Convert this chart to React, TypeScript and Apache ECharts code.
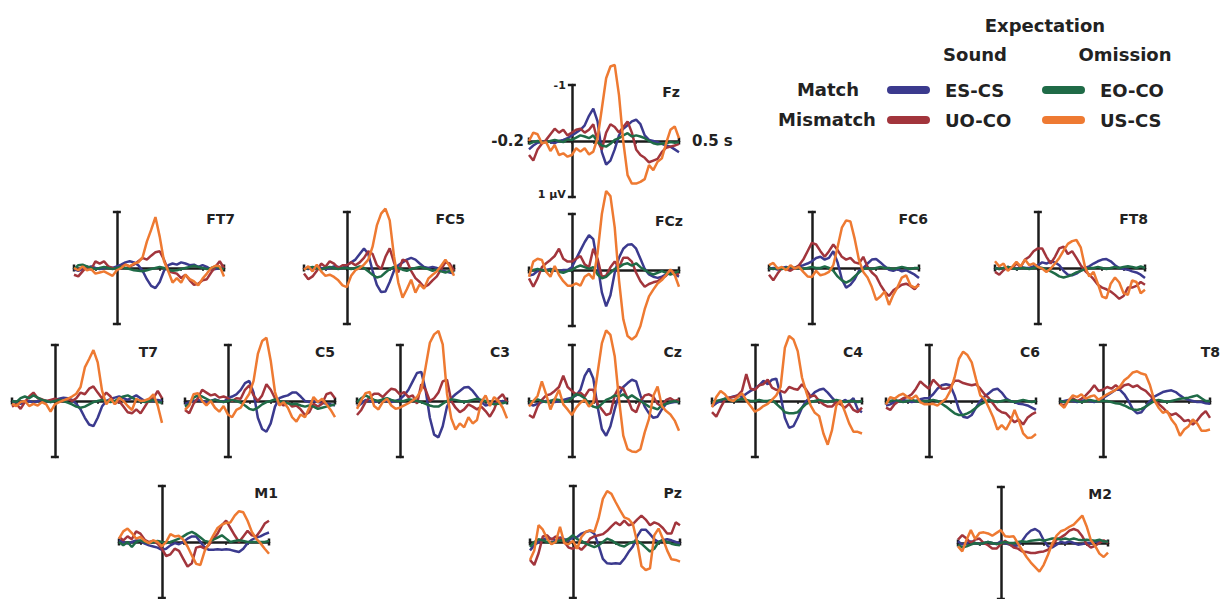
import React, { useEffect, useRef } from "react";
import * as echarts from "echarts";

// ---------- data ----------
const TIME_S = [-0.2, -0.18, -0.16, -0.14, -0.12, -0.1, -0.08, -0.06, -0.04, -0.02, 0, 0.02, 0.04, 0.06, 0.08, 0.1, 0.12, 0.14, 0.16, 0.18, 0.2, 0.22, 0.24, 0.26, 0.28, 0.3, 0.32, 0.34, 0.36, 0.38, 0.4, 0.42, 0.44, 0.46, 0.48, 0.5];

const CONDITIONS = ["ES-CS", "UO-CO", "EO-CO", "US-CS"];
const CONDITION_COLORS = ["#3b3a8e", "#a2353c", "#1f6b47", "#ee7a32"];

// Fz scale labels
const FZ_Y_TICK_LABELS = ["-1", "1 µV"];
const FZ_X_START_LABEL = "-0.2";
const FZ_X_END_LABEL = "0.5 s";

const FZ = {
  "ES-CS": [0.15, 0.08, 0.03, 0.02, 0.0, 0.02, 0.04, 0.0, -0.02, -0.05, -0.1, -0.15, -0.2, -0.28, -0.45, -0.58, -0.35, 0.2, 0.42, 0.35, 0.15, -0.1, -0.22, -0.28, -0.35, -0.38, -0.3, -0.1, -0.02, 0.0, 0.02, 0.05, 0.08, 0.1, 0.15, 0.2],
  "UO-CO": [0.25, 0.35, 0.15, 0.05, -0.02, -0.12, -0.22, -0.15, -0.2, -0.1, -0.15, -0.2, -0.22, -0.15, -0.2, -0.3, 0.0, 0.15, -0.15, -0.3, -0.25, -0.15, -0.25, -0.35, -0.15, 0.15, 0.25, 0.3, 0.38, 0.35, 0.32, 0.2, 0.12, 0.1, 0.08, 0.05],
  "EO-CO": [0.05, 0.02, 0.0, 0.03, 0.02, 0.0, -0.02, 0.0, 0.02, -0.03, -0.02, -0.06, -0.1, -0.08, -0.05, -0.1, 0.02, 0.08, 0.1, 0.05, -0.02, -0.05, -0.1, -0.14, -0.08, -0.1, -0.08, -0.05, 0.0, 0.04, 0.06, 0.05, 0.04, 0.02, 0.03, 0.02],
  "US-CS": [0, -0.15, -0.12, 0.04, 0.02, 0.18, 0.07, 0.25, 0.22, 0.28, 0.25, 0.13, 0.19, 0.13, 0.24, 0.19, -0.05, -0.58, -1.12, -1.33, -1.36, -0.82, 0.01, 0.61, 0.76, 0.76, 0.73, 0.68, 0.43, 0.52, 0.37, 0.31, 0.04, -0.2, -0.26, -0.05],
};
const FCZ = {
  "ES-CS": [0.1, 0.08, 0.02, 0.0, 0.0, -0.02, 0.0, 0.02, 0.0, 0.0, -0.05, -0.2, -0.35, -0.5, -0.62, -0.55, -0.1, 0.4, 0.65, 0.45, 0.05, -0.22, -0.38, -0.45, -0.46, -0.38, -0.2, -0.02, 0.08, 0.12, 0.14, 0.12, 0.08, 0.05, 0.08, 0.12],
  "UO-CO": [0.15, 0.3, 0.15, -0.05, -0.12, -0.18, -0.25, -0.38, -0.2, -0.15, -0.15, -0.2, -0.25, -0.1, -0.05, -0.38, -0.2, 0.12, 0.1, -0.05, -0.15, -0.05, -0.22, -0.22, -0.15, 0.05, 0.2, 0.3, 0.25, 0.22, 0.2, 0.15, 0.1, 0.0, 0.05, 0.08],
  "EO-CO": [0.02, 0.0, -0.02, 0.0, 0.02, 0.0, -0.02, 0.03, 0.05, 0.02, 0.0, -0.05, -0.08, -0.05, -0.02, -0.05, 0.08, 0.15, 0.12, 0.05, -0.02, -0.05, -0.1, -0.12, -0.08, -0.12, -0.05, 0.0, 0.05, 0.08, 0.05, 0.02, 0.05, 0.08, 0.05, 0.02],
  "US-CS": [0.12, -0.15, -0.2, -0.18, 0.03, 0.12, -0.07, 0.09, 0.2, 0.28, 0.28, 0.24, 0.28, 0.12, 0.07, 0.16, -0.3, -1.0, -1.41, -1.32, -0.76, 0.18, 0.88, 1.18, 1.24, 1.18, 1.0, 0.7, 0.47, 0.35, 0.24, 0.18, 0.09, -0.01, 0.09, 0.3],
};
const CZ = {
  "ES-CS": [0.05, 0.08, 0.05, 0.02, 0.0, 0.0, 0.02, 0.0, -0.02, -0.04, -0.06, -0.1, -0.2, -0.45, -0.58, -0.4, 0.1, 0.5, 0.62, 0.45, 0.15, -0.12, -0.25, -0.32, -0.38, -0.35, -0.1, 0.1, 0.22, 0.3, 0.28, 0.15, 0.05, 0.03, 0.02, 0.02],
  "UO-CO": [0.25, 0.3, 0.1, -0.02, -0.1, -0.12, -0.18, -0.25, -0.45, -0.25, -0.18, -0.12, -0.15, -0.08, -0.2, -0.2, 0.05, 0.15, 0.25, 0.22, -0.1, -0.25, -0.22, -0.05, 0.15, 0.2, 0.0, -0.1, -0.12, -0.08, 0.05, 0.1, -0.02, -0.05, 0.0, -0.03],
  "EO-CO": [0.02, 0.0, -0.03, 0.0, 0.02, 0.0, -0.03, -0.02, 0.02, 0.0, -0.05, -0.12, -0.1, -0.05, 0.05, 0.1, 0.12, 0.05, -0.02, -0.05, -0.1, -0.08, -0.12, -0.05, -0.1, -0.05, 0.0, 0.05, 0.1, 0.12, 0.15, 0.08, 0.05, 0.02, 0.0, 0.02],
  "US-CS": [0.1, 0.0, -0.09, -0.35, -0.12, 0.15, -0.03, -0.2, 0.06, 0.15, 0.25, 0.12, 0.03, -0.02, 0.1, 0.03, -0.5, -1.03, -1.26, -1.18, -0.8, -0.03, 0.62, 0.86, 0.9, 0.91, 0.86, 0.56, 0.32, -0.09, -0.26, 0.09, 0.18, 0.24, 0.35, 0.53],
};
const FT7 = {
  "ES-CS": [0.02, 0.05, 0.02, 0.0, -0.03, 0.0, 0.02, 0.0, -0.02, 0.0, -0.03, -0.06, -0.1, -0.12, -0.1, -0.05, 0.05, 0.2, 0.32, 0.36, 0.25, 0.05, -0.05, -0.08, -0.06, -0.1, -0.08, -0.05, -0.06, -0.02, -0.05, -0.02, 0.03, 0.02, 0.0, -0.02],
  "UO-CO": [0.12, 0.15, 0.06, -0.03, 0.03, -0.12, -0.08, -0.12, -0.03, 0.0, 0.03, -0.02, -0.06, -0.03, -0.06, -0.12, -0.18, -0.15, -0.22, -0.28, -0.3, -0.15, 0.05, 0.08, 0.1, 0.18, 0.12, 0.22, 0.3, 0.28, 0.22, 0.2, 0.08, -0.02, -0.12, 0.0],
  "EO-CO": [0.02, -0.05, -0.06, -0.03, 0.0, 0.02, 0.0, -0.02, 0.0, 0.02, 0.0, -0.02, 0.0, 0.02, 0.04, 0.05, 0.06, 0.04, 0.02, 0.0, -0.02, 0.0, 0.03, 0.05, 0.04, 0.02, 0.0, -0.02, -0.04, -0.02, 0.0, 0.02, 0.0, -0.03, 0.0, 0.02],
  "US-CS": [0.0, 0.04, -0.03, 0.04, 0.02, 0.1, 0.08, 0.06, 0.1, 0.14, 0.04, 0.0, -0.06, -0.03, -0.08, -0.1, -0.19, -0.47, -0.68, -0.91, -0.56, -0.12, 0.06, 0.26, 0.18, 0.26, 0.12, 0.2, 0.24, 0.31, 0.19, 0.1, 0.0, -0.04, -0.03, 0.15],
};
const FC5 = {
  "ES-CS": [0.0, 0.02, 0.0, -0.03, 0.0, 0.02, 0.0, -0.03, -0.02, 0.0, -0.05, -0.1, -0.15, -0.25, -0.35, -0.25, 0.05, 0.3, 0.43, 0.42, 0.25, 0.05, -0.05, -0.1, -0.15, -0.18, -0.15, -0.08, -0.02, 0.0, -0.02, 0.0, 0.05, 0.06, 0.08, 0.1],
  "UO-CO": [0.1, 0.2, 0.15, 0.05, -0.08, -0.02, -0.12, -0.08, 0.0, -0.05, -0.05, -0.1, -0.05, -0.1, -0.18, -0.3, -0.25, -0.05, 0.02, -0.2, -0.35, -0.1, 0.08, -0.15, -0.12, 0.05, 0.18, 0.25, 0.34, 0.3, 0.22, 0.15, 0.02, -0.1, -0.08, 0.05],
  "EO-CO": [0.02, 0.0, -0.02, 0.0, 0.03, 0.0, -0.02, 0.0, 0.02, 0.0, 0.0, 0.02, 0.0, -0.03, 0.0, 0.06, 0.12, 0.17, 0.15, 0.08, 0.02, -0.02, 0.0, 0.03, 0.05, 0.02, 0.0, -0.02, 0.0, 0.02, 0.05, 0.03, 0.06, 0.08, 0.05, 0.08],
  "US-CS": [0.03, -0.03, 0.06, -0.06, 0.06, 0.14, 0.12, 0.16, 0.22, 0.31, 0.34, 0.14, 0.04, 0.0, -0.06, -0.15, -0.38, -0.76, -0.97, -1.06, -0.85, -0.21, 0.26, 0.53, 0.38, 0.21, 0.44, 0.29, 0.37, 0.19, 0.12, 0.06, -0.04, -0.15, -0.03, 0.14],
};
const FC6 = {
  "ES-CS": [0.02, 0.0, 0.03, 0.0, -0.02, 0.02, 0.0, -0.03, -0.05, -0.08, -0.12, -0.18, -0.2, -0.15, -0.18, -0.3, -0.1, 0.2, 0.35, 0.3, 0.2, 0.05, 0.0, -0.08, -0.15, -0.16, -0.1, -0.03, 0.03, 0.05, 0.02, 0.06, 0.04, 0.08, 0.12, 0.18],
  "UO-CO": [0.12, 0.22, 0.1, 0.0, 0.02, 0.05, 0.0, -0.05, -0.15, -0.3, -0.45, -0.42, -0.3, -0.2, -0.3, -0.42, -0.32, -0.2, -0.15, -0.18, -0.1, -0.08, -0.2, -0.02, 0.08, 0.15, 0.3, 0.42, 0.5, 0.4, 0.35, 0.3, 0.28, 0.32, 0.38, 0.28],
  "EO-CO": [0.0, 0.02, 0.0, 0.02, 0.0, -0.02, 0.0, 0.0, 0.02, 0.0, -0.02, 0.0, 0.0, -0.03, 0.0, 0.05, 0.15, 0.22, 0.26, 0.22, 0.15, 0.08, 0.02, 0.0, 0.02, 0.0, -0.02, 0.0, 0.0, 0.02, 0.0, -0.02, 0.0, 0.02, 0.0, 0.0],
  "US-CS": [-0.05, -0.09, 0.01, -0.02, 0.04, -0.05, 0.01, -0.02, 0.07, 0.15, 0.16, 0.05, 0.13, 0.11, 0.07, -0.05, -0.37, -0.72, -0.85, -0.83, -0.52, -0.14, 0.07, 0.17, 0.34, 0.57, 0.51, 0.42, 0.66, 0.48, 0.34, 0.17, 0.13, 0.31, 0.35, 0.31],
};
const FT8 = {
  "ES-CS": [0.0, 0.02, 0.0, -0.02, 0.0, 0.02, -0.02, 0.0, 0.0, -0.03, -0.05, -0.1, -0.08, -0.12, -0.1, -0.05, 0.05, 0.12, 0.13, 0.1, 0.05, 0.0, -0.03, -0.08, -0.12, -0.15, -0.16, -0.12, -0.05, 0.0, 0.02, 0.03, 0.06, 0.08, 0.12, 0.18],
  "UO-CO": [0.07, 0.12, 0.04, -0.02, 0.01, -0.08, -0.02, -0.15, -0.2, -0.3, -0.35, -0.35, -0.2, -0.08, -0.2, -0.35, -0.38, -0.25, -0.3, -0.18, -0.05, 0.05, 0.12, 0.2, 0.3, 0.35, 0.38, 0.42, 0.48, 0.55, 0.5, 0.35, 0.35, 0.32, 0.25, 0.3],
  "EO-CO": [0.0, 0.02, 0.0, -0.02, 0.0, 0.02, 0.0, 0.0, 0.02, 0.0, -0.02, 0.0, 0.03, 0.06, 0.1, 0.15, 0.17, 0.15, 0.12, 0.08, 0.05, 0.02, 0.0, 0.0, -0.02, 0.0, 0.02, 0.0, -0.02, 0.0, -0.02, -0.03, -0.02, 0.0, -0.03, 0.0],
  "US-CS": [-0.12, -0.03, -0.08, 0.05, -0.02, -0.11, -0.03, -0.15, -0.05, -0.08, -0.02, 0.01, 0.07, 0.01, -0.08, -0.18, -0.31, -0.43, -0.48, -0.5, -0.37, -0.02, 0.15, 0.07, 0.28, 0.51, 0.54, 0.28, 0.17, 0.26, 0.45, 0.48, 0.22, 0.25, 0.45, 0.39],
};
const T7 = {
  "ES-CS": [0.0, 0.03, 0.05, 0.02, 0.0, 0.03, 0.0, -0.02, 0.0, 0.02, -0.02, -0.04, -0.06, -0.05, -0.02, 0.05, 0.15, 0.3, 0.42, 0.45, 0.3, 0.1, 0.0, -0.04, -0.06, -0.08, -0.05, -0.02, -0.06, -0.1, -0.05, 0.0, -0.02, 0.0, -0.02, 0.0],
  "UO-CO": [0.1, 0.05, 0.14, 0.02, -0.08, -0.15, -0.05, -0.03, 0.0, -0.02, -0.04, -0.02, 0.0, -0.04, 0.0, -0.05, -0.15, -0.12, -0.22, -0.26, -0.15, -0.05, -0.15, -0.08, 0.05, 0.0, 0.1, 0.2, 0.22, 0.15, 0.22, 0.1, -0.02, -0.05, -0.18, -0.05],
  "EO-CO": [0.0, 0.02, -0.05, -0.08, -0.05, -0.1, -0.06, -0.02, 0.0, 0.02, 0.0, -0.02, 0.0, 0.03, 0.06, 0.1, 0.12, 0.1, 0.06, 0.02, 0.0, -0.02, 0.0, 0.02, 0.0, -0.05, -0.08, -0.1, -0.06, -0.02, 0.0, 0.02, 0.0, -0.02, 0.02, 0.03],
  "US-CS": [0.05, 0.09, 0.02, 0.0, 0.09, 0.05, 0.08, 0.02, 0.06, 0.19, 0.06, 0.02, -0.01, -0.04, -0.08, -0.13, -0.25, -0.6, -0.75, -0.91, -0.69, -0.19, 0.06, -0.04, 0.06, -0.06, 0.0, 0.09, 0.16, -0.04, 0.0, -0.01, -0.04, -0.12, 0.08, 0.39],
};
const C5 = {
  "ES-CS": [0.05, 0.02, 0.0, -0.02, 0.0, 0.03, 0.0, -0.03, 0.0, 0.02, -0.05, -0.08, -0.12, -0.2, -0.32, -0.36, -0.15, 0.3, 0.5, 0.55, 0.4, 0.1, -0.05, -0.08, -0.1, -0.15, -0.15, -0.08, 0.0, 0.02, 0.0, 0.02, 0.03, 0.05, 0.06, 0.08],
  "UO-CO": [0.16, 0.22, 0.05, -0.05, -0.2, -0.15, -0.1, -0.12, -0.06, -0.08, -0.05, 0.0, -0.05, -0.04, -0.2, -0.28, -0.1, 0.0, -0.1, -0.3, -0.2, -0.05, 0.02, 0.08, 0.02, 0.1, 0.08, 0.15, 0.25, 0.2, 0.05, 0.1, 0.05, -0.12, -0.15, -0.05],
  "EO-CO": [0.1, 0.05, -0.06, -0.1, -0.08, -0.04, 0.0, -0.02, 0.0, 0.02, 0.0, -0.02, 0.0, 0.03, 0.08, 0.14, 0.16, 0.12, 0.06, 0.02, 0.0, -0.03, 0.0, 0.02, 0.04, 0.06, 0.05, 0.08, 0.1, 0.08, 0.1, 0.14, 0.12, 0.1, 0.08, 0.06],
  "US-CS": [0.16, 0.08, -0.12, -0.14, 0.0, 0.08, 0.0, 0.12, 0.19, 0.09, 0.24, 0.29, 0.16, 0.12, -0.01, -0.13, -0.36, -0.84, -1.07, -1.13, -0.72, -0.16, 0.08, 0.02, 0.12, 0.29, 0.37, 0.24, 0.29, 0.12, -0.07, 0.02, -0.04, 0.06, 0.16, 0.29],
};
const C3 = {
  "ES-CS": [0.1, 0.05, -0.02, 0.0, 0.02, 0.0, -0.02, 0.0, 0.02, 0.0, -0.03, -0.1, -0.2, -0.35, -0.5, -0.52, -0.2, 0.3, 0.6, 0.65, 0.45, 0.1, -0.05, -0.12, -0.18, -0.24, -0.25, -0.18, -0.08, 0.02, 0.08, 0.06, 0.04, 0.02, 0.0, 0.02],
  "UO-CO": [0.25, 0.16, 0.02, -0.07, -0.13, -0.13, -0.07, -0.15, -0.22, -0.2, -0.12, -0.16, -0.07, -0.1, 0.05, -0.3, -0.2, 0.0, -0.05, -0.15, -0.35, -0.38, 0.0, 0.12, 0.2, 0.15, 0.06, 0.1, 0.15, 0.1, 0.18, 0.28, 0.15, -0.05, -0.12, 0.02],
  "EO-CO": [0.02, -0.05, -0.1, -0.06, -0.02, 0.0, -0.03, -0.05, -0.02, 0.0, 0.0, 0.0, -0.03, -0.02, 0.0, 0.02, 0.05, 0.08, 0.1, 0.1, 0.05, 0.0, -0.03, -0.02, 0.0, 0.02, 0.0, -0.02, -0.04, -0.02, 0.0, 0.03, 0.06, 0.05, 0.04, 0.02],
  "US-CS": [0.14, -0.01, -0.14, -0.16, 0.09, 0.15, 0.02, -0.04, 0.08, 0.14, 0.12, 0.08, 0.04, -0.01, -0.07, -0.2, -0.6, -1.04, -1.19, -1.25, -1.01, -0.13, 0.31, 0.51, 0.4, 0.47, 0.29, 0.4, 0.34, 0.02, -0.1, 0.09, -0.07, 0.0, 0.12, 0.31],
};
const C4 = {
  "ES-CS": [0.1, 0.04, 0.0, -0.04, -0.06, -0.08, -0.1, -0.07, -0.13, -0.18, -0.22, -0.28, -0.36, -0.3, -0.38, -0.4, -0.1, 0.3, 0.48, 0.45, 0.3, 0.12, 0.0, -0.08, -0.16, -0.2, -0.22, -0.15, -0.06, 0.02, 0.04, -0.02, 0.02, -0.05, 0.15, 0.2],
  "UO-CO": [0.2, 0.28, 0.12, -0.02, -0.06, -0.07, -0.1, -0.18, -0.48, -0.22, -0.2, -0.28, -0.3, -0.38, -0.24, -0.2, -0.18, -0.15, -0.25, -0.22, -0.2, -0.3, -0.2, -0.08, -0.1, 0.0, 0.06, 0.1, 0.1, 0.02, 0.06, 0.12, 0.05, 0.16, 0.2, 0.12],
  "EO-CO": [0.02, 0.0, -0.02, -0.04, -0.02, 0.0, -0.02, -0.04, -0.02, 0.0, 0.0, -0.02, 0.0, 0.0, -0.02, 0.05, 0.12, 0.2, 0.22, 0.22, 0.2, 0.12, 0.05, 0.02, 0.0, -0.02, 0.0, 0.02, 0.0, -0.02, 0.0, 0.02, 0.0, 0.0, 0.02, 0.0],
  "US-CS": [0.11, -0.07, -0.18, -0.12, -0.02, 0.0, -0.07, -0.14, -0.01, 0.09, 0.19, 0.15, 0.09, 0.05, -0.02, -0.1, -0.25, -0.95, -1.16, -1.1, -0.89, -0.42, -0.16, 0.08, 0.21, 0.27, 0.58, 0.78, 0.52, 0.08, -0.01, 0.19, 0.4, 0.55, 0.55, 0.58],
};
const C6 = {
  "ES-CS": [0.08, 0.06, 0.02, 0.0, -0.02, 0.0, 0.02, 0.0, -0.03, -0.05, -0.05, -0.12, -0.22, -0.28, -0.3, -0.28, -0.1, 0.15, 0.28, 0.3, 0.25, 0.12, 0.0, -0.08, -0.14, -0.2, -0.22, -0.15, -0.05, 0.0, 0.02, 0.05, 0.06, 0.08, 0.12, 0.16],
  "UO-CO": [0.12, 0.16, 0.06, 0.0, -0.05, -0.07, -0.12, -0.22, -0.35, -0.28, -0.22, -0.38, -0.3, -0.22, -0.22, -0.25, -0.36, -0.36, -0.32, -0.3, -0.28, -0.3, -0.22, -0.12, -0.05, 0.05, 0.15, 0.2, 0.22, 0.3, 0.38, 0.33, 0.42, 0.3, 0.24, 0.2],
  "EO-CO": [0.02, 0.0, -0.02, 0.0, 0.02, 0.0, -0.02, 0.0, 0.02, 0.0, 0.0, -0.02, 0.0, 0.05, 0.1, 0.16, 0.22, 0.25, 0.25, 0.22, 0.18, 0.12, 0.06, 0.02, -0.02, 0.0, 0.02, 0.0, -0.02, 0.0, 0.02, 0.0, -0.02, 0.0, 0.02, 0.0],
  "US-CS": [0.06, -0.07, -0.04, -0.1, -0.13, -0.07, -0.04, -0.1, 0.02, 0.06, 0.06, 0.05, 0.08, 0.02, -0.04, -0.18, -0.42, -0.75, -0.88, -0.82, -0.69, -0.39, -0.1, -0.04, 0.12, 0.29, 0.51, 0.43, 0.51, 0.37, 0.16, 0.35, 0.58, 0.66, 0.65, 0.59],
};
const T8 = {
  "ES-CS": [0.02, 0.0, -0.02, 0.0, 0.02, 0.0, -0.02, 0.0, 0.02, -0.02, -0.05, -0.1, -0.15, -0.2, -0.2, -0.12, 0.0, 0.15, 0.22, 0.2, 0.1, 0.0, -0.08, -0.12, -0.16, -0.18, -0.19, -0.16, -0.1, -0.05, -0.02, 0.0, 0.02, 0.02, 0.04, 0.05],
  "UO-CO": [0.05, 0.08, 0.0, -0.05, 0.0, -0.04, -0.1, -0.18, -0.28, -0.18, -0.2, -0.25, -0.22, -0.28, -0.22, -0.28, -0.3, -0.25, -0.28, -0.22, -0.18, -0.1, -0.02, 0.05, 0.12, 0.2, 0.25, 0.22, 0.28, 0.36, 0.34, 0.42, 0.35, 0.25, 0.18, 0.3],
  "EO-CO": [0.0, 0.02, 0.0, -0.02, 0.0, 0.02, 0.0, -0.02, 0.0, 0.0, 0.0, 0.0, 0.02, 0.04, 0.05, 0.08, 0.12, 0.15, 0.16, 0.14, 0.1, 0.05, 0.0, -0.02, 0.0, 0.02, 0.0, -0.02, -0.04, -0.05, -0.06, -0.08, -0.1, -0.05, 0.0, 0.0],
  "US-CS": [0.05, 0.12, -0.01, -0.1, -0.07, -0.12, -0.04, -0.08, -0.1, -0.02, -0.07, -0.12, -0.16, -0.2, -0.26, -0.37, -0.43, -0.51, -0.53, -0.49, -0.47, -0.28, -0.01, 0.12, 0.21, 0.18, 0.33, 0.43, 0.62, 0.51, 0.45, 0.33, 0.4, 0.53, 0.53, 0.51],
};
const M1 = {
  "ES-CS": [-0.03, 0.0, 0.03, 0.0, -0.03, -0.02, 0.03, 0.06, 0.08, 0.1, 0.14, 0.12, 0.06, 0.02, 0.04, 0.0, -0.06, -0.1, -0.1, 0.0, 0.1, 0.14, 0.14, 0.13, 0.14, 0.13, 0.14, 0.16, 0.18, 0.12, 0.02, -0.04, -0.08, -0.1, -0.14, -0.17],
  "UO-CO": [-0.09, -0.03, -0.1, -0.05, -0.19, -0.15, -0.04, 0.0, -0.02, 0.03, 0.12, 0.25, 0.22, 0.12, 0.16, 0.3, 0.44, 0.38, 0.1, 0.08, 0.12, 0.05, -0.05, -0.15, -0.3, -0.38, -0.25, -0.12, 0.0, -0.1, -0.2, -0.12, -0.1, -0.2, -0.33, -0.38],
  "EO-CO": [0.0, 0.06, 0.0, 0.09, 0.0, -0.03, 0.0, 0.02, 0.0, -0.02, 0.0, 0.02, 0.0, -0.03, -0.06, -0.1, -0.15, -0.18, -0.14, -0.08, -0.02, 0.0, -0.04, -0.08, -0.12, -0.06, 0.0, -0.02, -0.03, -0.02, 0.0, 0.0, 0.0, 0.0, 0.0, -0.02],
  "US-CS": [-0.06, -0.19, -0.24, -0.16, -0.06, -0.09, -0.02, 0.02, -0.03, 0.0, 0.08, 0.0, -0.14, -0.1, -0.11, -0.04, 0.08, 0.24, 0.39, 0.41, 0.16, 0.03, -0.12, -0.25, -0.31, -0.34, -0.35, -0.47, -0.55, -0.53, -0.38, -0.18, -0.06, 0.02, 0.12, 0.21],
};
const PZ = {
  "ES-CS": [0.15, 0.06, 0.0, -0.06, -0.06, -0.06, -0.03, -0.08, -0.05, -0.03, -0.08, -0.09, -0.15, -0.18, -0.2, -0.15, 0.06, 0.3, 0.38, 0.39, 0.38, 0.39, 0.3, 0.18, 0.08, -0.1, -0.22, -0.22, -0.14, -0.05, 0.0, -0.03, -0.05, -0.03, 0.0, 0.03],
  "UO-CO": [0.32, 0.41, 0.2, -0.1, -0.12, -0.04, -0.1, -0.06, 0.0, 0.1, 0.12, 0.08, 0.14, 0.06, -0.06, -0.1, -0.12, -0.14, -0.2, -0.28, -0.35, -0.3, -0.38, -0.3, -0.32, -0.4, -0.47, -0.4, -0.3, -0.35, -0.32, -0.25, -0.15, -0.15, -0.35, -0.3],
  "EO-CO": [0.09, 0.0, -0.05, -0.03, 0.0, 0.02, 0.0, -0.03, -0.02, -0.06, -0.12, -0.05, -0.02, 0.03, 0.06, 0.09, 0.06, 0.0, -0.06, -0.03, 0.02, 0.06, 0.08, 0.03, 0.0, -0.02, 0.03, 0.1, 0.17, 0.12, 0.0, -0.04, 0.0, 0.03, 0.05, 0.06],
  "US-CS": [0.32, 0.15, -0.3, -0.22, -0.06, 0.04, 0.0, -0.27, 0.02, 0.04, -0.02, 0.12, -0.09, -0.18, -0.21, -0.18, -0.42, -0.77, -0.91, -0.86, -0.71, -0.57, -0.44, -0.41, -0.32, 0.0, 0.43, 0.5, 0.47, -0.12, -0.24, -0.06, 0.15, 0.31, 0.32, 0.35],
};
const M2 = {
  "ES-CS": [-0.03, 0.03, 0.0, -0.03, 0.0, 0.02, 0.0, -0.02, 0.0, 0.02, -0.03, 0.0, 0.03, 0.06, 0.04, -0.04, -0.15, -0.22, -0.25, -0.2, -0.05, 0.06, 0.08, 0.03, -0.02, 0.0, -0.03, 0.0, 0.03, 0.02, 0.0, 0.0, -0.02, -0.04, -0.03, -0.02],
  "UO-CO": [-0.06, -0.14, -0.08, 0.0, -0.06, -0.08, 0.0, 0.04, 0.1, 0.1, 0.02, -0.04, 0.02, 0.08, 0.1, 0.15, 0.16, 0.18, 0.18, 0.16, 0.15, 0.12, 0.05, -0.06, -0.1, -0.15, -0.22, -0.25, -0.22, -0.12, 0.02, 0.08, 0.05, 0.0, -0.05, 0.0],
  "EO-CO": [0.03, 0.08, 0.06, 0.03, 0.0, 0.02, 0.0, -0.02, 0.0, 0.02, 0.0, -0.02, 0.0, 0.0, -0.02, -0.03, -0.02, -0.04, -0.05, -0.06, -0.04, -0.06, -0.08, -0.08, -0.06, -0.08, -0.06, -0.08, -0.06, -0.05, -0.06, -0.05, -0.04, -0.06, -0.03, -0.02],
  "US-CS": [0.06, 0.15, -0.06, -0.23, -0.07, -0.18, -0.19, -0.17, -0.13, -0.18, -0.23, -0.12, -0.11, -0.12, 0.01, 0.13, 0.25, 0.35, 0.43, 0.51, 0.39, 0.21, 0.01, -0.13, -0.21, -0.24, -0.29, -0.33, -0.41, -0.49, -0.3, -0.05, 0.05, 0.19, 0.25, 0.17],
};

const ELECTRODE_DATA: Record<string, Record<string, number[]>> = {
  Fz: FZ, FCz: FCZ, Cz: CZ, FT7, FC5, FC6, FT8, T7, C5, C3, C4, C6, T8, M1, Pz: PZ, M2,
};

// ---------- layout (pixels) ----------
const PANEL_W = 150;
const PANEL_H = 112;
const PANELS = [
  { name: "Fz", left: 529, top: 85, labelRight: 680 },
  { name: "FT7", left: 74, top: 212, labelRight: 235 },
  { name: "FC5", left: 304, top: 212, labelRight: 465 },
  { name: "FCz", left: 529, top: 214, labelRight: 683 },
  { name: "FC6", left: 769, top: 212, labelRight: 928 },
  { name: "FT8", left: 995, top: 212, labelRight: 1148 },
  { name: "T7", left: 12, top: 345, labelRight: 158 },
  { name: "C5", left: 185, top: 345, labelRight: 335 },
  { name: "C3", left: 357, top: 345, labelRight: 510 },
  { name: "Cz", left: 529, top: 345, labelRight: 682 },
  { name: "C4", left: 712, top: 345, labelRight: 863 },
  { name: "C6", left: 886, top: 345, labelRight: 1040 },
  { name: "T8", left: 1060, top: 345, labelRight: 1220 },
  { name: "M1", left: 119, top: 486, labelRight: 278 },
  { name: "Pz", left: 530, top: 486, labelRight: 682 },
  { name: "M2", left: 958, top: 487, labelRight: 1112 },
];

const FONT = '"DejaVu Sans", Verdana, sans-serif';
const TEXT_COLOR = "#222";
const AXIS_COLOR = "#1c1c1c";
const CAPSULE = "path://M4,0L39,0A4,4,0,0,1,39,8L4,8A4,4,0,0,1,4,0Z";

function buildOption() {
  const grid = PANELS.map((p) => ({ left: p.left, top: p.top, width: PANEL_W, height: PANEL_H }));

  const xAxis = PANELS.map((p, i) => {
    const isFz = p.name === "Fz";
    return {
      type: "value",
      gridIndex: i,
      min: -0.2,
      max: 0.5,
      interval: 0.1,
      axisLine: {
        onZero: true,
        lineStyle: { color: AXIS_COLOR, width: 2.5 },
        symbol: ["rect", "rect"],
        symbolSize: [7, 2.5],
      },
      axisTick: { show: true, length: 3, lineStyle: { color: AXIS_COLOR, width: 1.5 } },
      splitLine: { show: false },
      axisLabel: { show: false },
      name: isFz ? FZ_X_END_LABEL : "",
      nameLocation: "end",
      nameGap: 13,
      nameTextStyle: { fontSize: 15, fontWeight: "bold", fontFamily: FONT, color: TEXT_COLOR },
    };
  });

  const yAxis = PANELS.map((p, i) => ({
    type: "value",
    gridIndex: i,
    min: -1,
    max: 1,
    inverse: true,
    axisLine: {
      onZero: true,
      lineStyle: { color: AXIS_COLOR, width: 2.5 },
      symbol: ["rect", "rect"],
      symbolSize: [8, 2.5],
    },
    axisTick: { show: false },
    splitLine: { show: false },
    axisLabel: { show: false },
  }));

  const series: any[] = [];
  PANELS.forEach((p, i) => {
    const d = ELECTRODE_DATA[p.name];
    CONDITIONS.forEach((c, ci) => {
      const vals = d[c];
      series.push({
        type: "line",
        name: c,
        xAxisIndex: i,
        yAxisIndex: i,
        data: TIME_S.map((t, k) => [t, vals[k]]),
        symbol: "none",
        showSymbol: false,
        clip: false,
        silent: true,
        z: 2 + ci,
        lineStyle: { color: CONDITION_COLORS[ci], width: 2.5 },
        itemStyle: { color: CONDITION_COLORS[ci] },
      });
    });
  });

  const title = PANELS.map((p) => ({
    text: p.name,
    right: 1224 - p.labelRight,
    top: p.top,
    padding: 0,
    textStyle: { fontSize: 14, fontWeight: "bold", fontFamily: FONT, color: TEXT_COLOR },
  }));

  const legendPos = [
    { name: "ES-CS", left: 887, top: 80 },
    { name: "UO-CO", left: 887, top: 110 },
    { name: "EO-CO", left: 1042, top: 80 },
    { name: "US-CS", left: 1042, top: 110 },
  ];
  const legend = legendPos.map((l) => ({
    data: [l.name],
    left: l.left,
    top: l.top,
    padding: 0,
    selectedMode: false,
    icon: CAPSULE,
    itemWidth: 43,
    itemHeight: 8,
    textStyle: {
      fontSize: 18,
      fontWeight: "bold",
      fontFamily: FONT,
      color: TEXT_COLOR,
      lineHeight: 20,
      padding: [0, 0, 0, 10],
    },
  }));

  const textEl = (text: string, x: number, y: number, size: number, align: string) => ({
    type: "text",
    x,
    y,
    silent: true,
    style: {
      text,
      font: `bold ${size}px ${FONT}`,
      fill: TEXT_COLOR,
      textAlign: align,
      textVerticalAlign: "middle",
    },
  });

  // Fz scale-bar labels sit beside the Fz axes (grid 0)
  const fz = PANELS[0];
  const fzZeroX = fz.left + (0.2 / 0.7) * PANEL_W;
  const fzZeroY = fz.top + PANEL_H / 2;

  return {
    animation: false,
    backgroundColor: "#fff",
    grid,
    xAxis,
    yAxis,
    series,
    title,
    legend,
    graphic: [
      textEl("Expectation", 1045, 25, 18, "center"),
      textEl("Sound", 975, 54, 18, "center"),
      textEl("Omission", 1125, 54, 18, "center"),
      textEl("Match", 828, 89, 18, "center"),
      textEl("Mismatch", 827, 119, 18, "center"),
      textEl(FZ_Y_TICK_LABELS[0], fzZeroX - 6, fz.top, 11, "right"),
      textEl(FZ_Y_TICK_LABELS[1], fzZeroX - 6, fz.top + PANEL_H - 3, 11, "right"),
      textEl(FZ_X_START_LABEL, fz.left - 5, fzZeroY, 15, "right"),
    ],
  };
}

export default function App() {
  const ref = useRef<HTMLDivElement>(null);
  useEffect(() => {
    if (!ref.current) return;
    const chart = echarts.init(ref.current, null, { renderer: "svg" });
    chart.setOption(buildOption() as any);
    return () => chart.dispose();
  }, []);
  return (
    <div
      ref={ref}
      style={{ position: "absolute", left: 0, top: 0, width: 1224, height: 599, background: "#fff" }}
    />
  );
}
